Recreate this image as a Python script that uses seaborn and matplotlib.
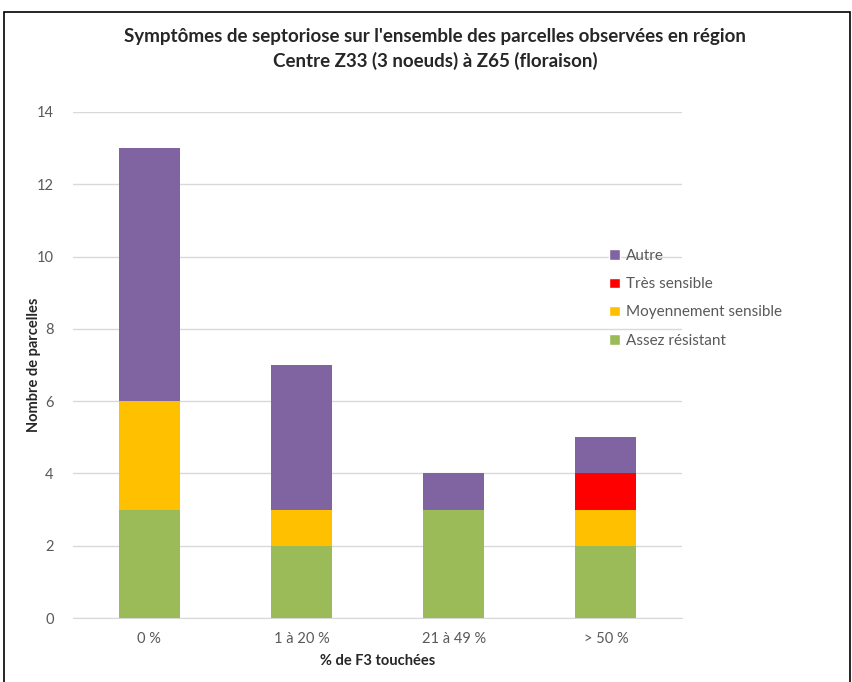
import numpy as np
import pandas as pd
import matplotlib.pyplot as plt
import seaborn as sns
from matplotlib.patches import Rectangle, Patch

# Données
categories = ['0 %', '1 à 20 %', '21 à 49 %', '> 50 %']
assez_resistant = [3, 2, 3, 2]
moyennement_sensible = [3, 1, 0, 1]
tres_sensible = [0, 0, 0, 1]
autre = [7, 4, 1, 1]

series = [
    ('Assez résistant', assez_resistant, '#9BBB59'),
    ('Moyennement sensible', moyennement_sensible, '#FFC000'),
    ('Très sensible', tres_sensible, '#FF0000'),
    ('Autre', autre, '#8064A2'),
]

sns.set_style('white')
plt.rcParams['font.family'] = ['Lato', 'DejaVu Sans']

fig = plt.figure(figsize=(8.53, 6.82), dpi=100)
ax = fig.add_axes([0.0856, 0.0938, 0.714, 0.742])

# Barres empilées
bottom = np.zeros(len(categories))
for name, vals, color in series:
    df = pd.DataFrame({'cat': categories, 'val': vals})
    sns.barplot(data=df, x='cat', y='val', color=color, bottom=bottom,
                width=0.4, ax=ax, saturation=1, order=categories, zorder=3,
                linewidth=0)
    bottom += np.array(vals)

ax.set_ylim(0, 14)
ax.set_yticks(range(0, 15, 2))
ax.yaxis.grid(True, color='#D9D9D9', linewidth=1, zorder=0)
ax.set_axisbelow(True)
for s in ['top', 'right', 'left']:
    ax.spines[s].set_visible(False)
ax.spines['bottom'].set_color('#D9D9D9')
ax.tick_params(axis='both', length=0, colors='#595959', labelsize=10.5)
ax.tick_params(axis='x', pad=10)
ax.tick_params(axis='y', pad=14)

ax.set_xlabel('% de F3 touchées', fontsize=10.5, fontweight='bold', labelpad=6)
ax.set_ylabel('Nombre de parcelles', fontsize=10.5, fontweight='bold', labelpad=-3)

fig.text(0.51, 0.928, "Symptômes de septoriose sur l'ensemble des parcelles observées en région\nCentre Z33 (3 noeuds) à Z65 (floraison)",
         ha='center', va='center', fontsize=13.5, fontweight='bold', linespacing=1.45)

# Légende (Autre en haut)
handles = [Patch(facecolor=c, label=n) for n, v, c in reversed(series)]
fig.legend(handles=handles, loc='upper left', bbox_to_anchor=(0.698, 0.655),
           frameon=False, fontsize=11, handlelength=0.7, handleheight=0.7,
           handletextpad=0.4, labelspacing=0.93, labelcolor='#595959')

# Cadre de la figure
fig.patches.append(Rectangle((4 / 853, -0.05), 846 / 853, 1.05 - 12 / 682,
                             transform=fig.transFigure, fill=False,
                             edgecolor='black', linewidth=1.2))

fig.savefig('out.png', dpi=100)
